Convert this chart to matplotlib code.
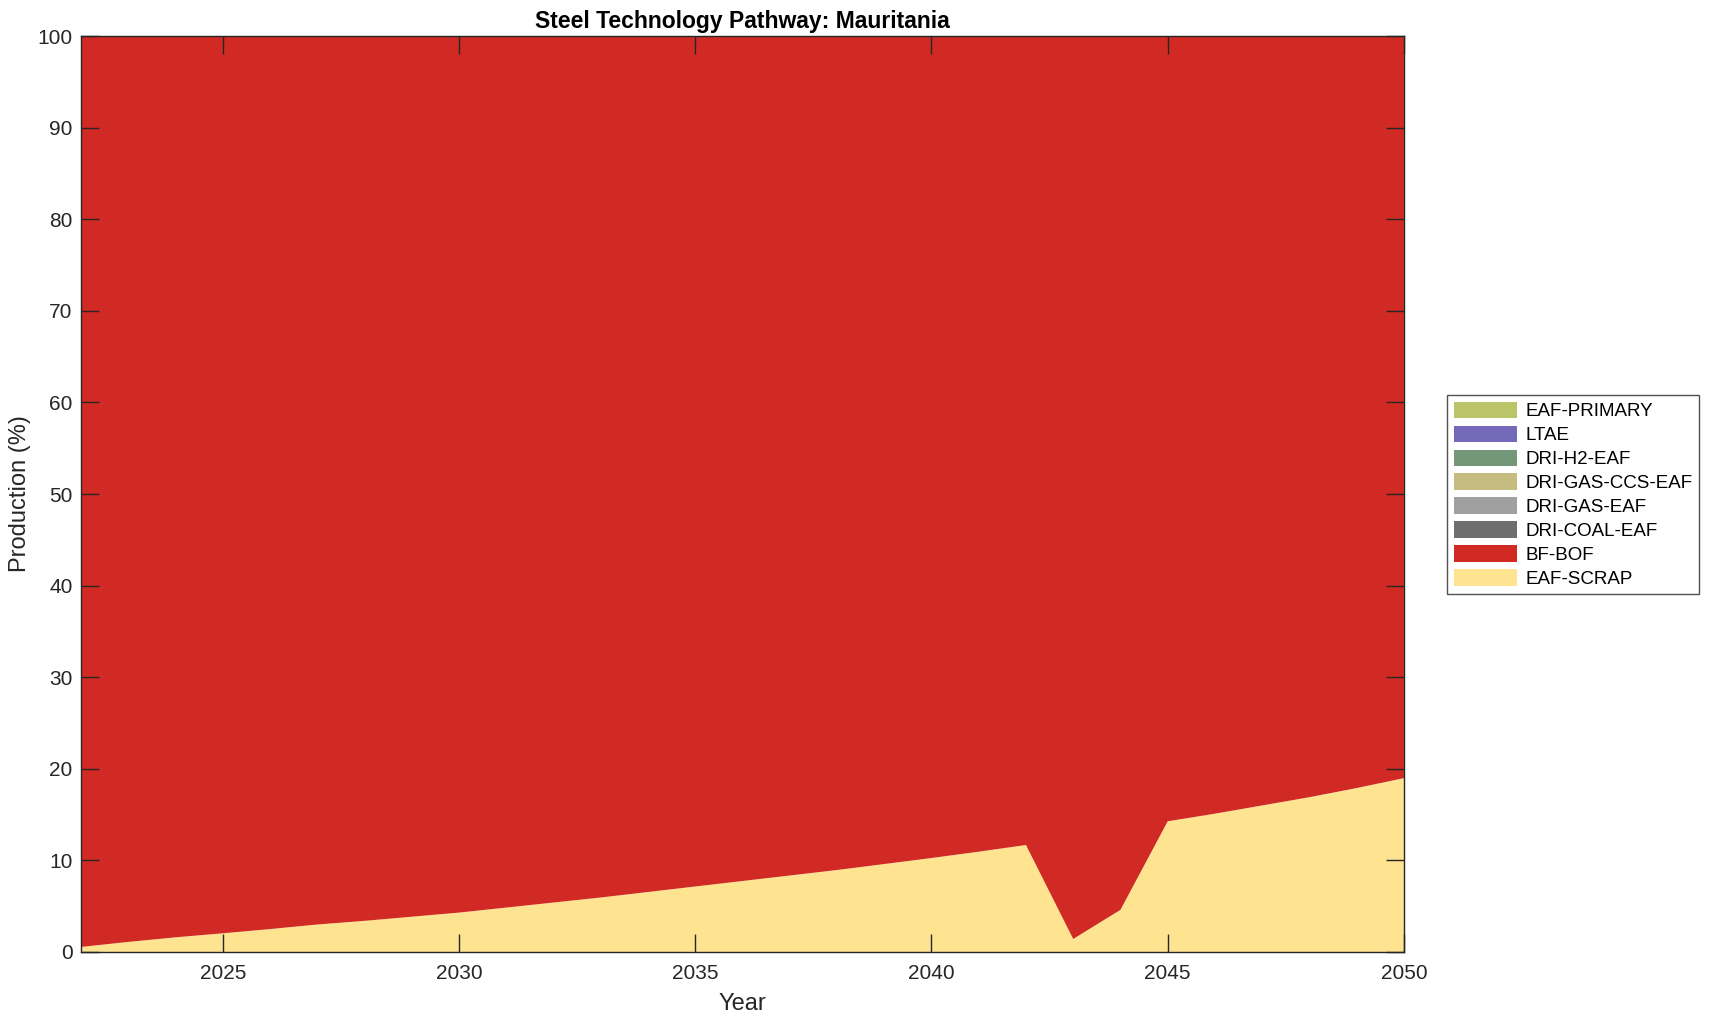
import matplotlib
matplotlib.use("Agg")
import matplotlib.pyplot as plt
import numpy as np

plt.rcParams['font.family'] = ['Liberation Sans', 'DejaVu Sans']

years = list(range(2022, 2051))
eaf_scrap = [0.55, 1.1, 1.6, 2.04, 2.5, 3.0, 3.4, 3.85, 4.3, 4.85, 5.4, 5.95, 6.55, 7.15,
             7.75, 8.35, 8.95, 9.6, 10.26, 10.95, 11.68, 1.42, 4.6, 14.27, 15.1, 16.0,
             16.9, 17.9, 18.98]
bf_bof = [100 - v for v in eaf_scrap]
zeros = [0.0] * len(years)
dri_coal_eaf = zeros
dri_gas_eaf = zeros
dri_gas_ccs_eaf = zeros
dri_h2_eaf = zeros
ltae = zeros
eaf_primary = zeros

labels = ['EAF-SCRAP', 'BF-BOF', 'DRI-COAL-EAF', 'DRI-GAS-EAF', 'DRI-GAS-CCS-EAF',
          'DRI-H2-EAF', 'LTAE', 'EAF-PRIMARY']
colors = ['#FEE391', '#D12A24', '#6E6E6E', '#A0A0A0', '#C6BB80', '#74977A', '#7468B8', '#BCC46A']
series = [eaf_scrap, bf_bof, dri_coal_eaf, dri_gas_eaf, dri_gas_ccs_eaf, dri_h2_eaf, ltae, eaf_primary]

fig = plt.figure(figsize=(17.09, 10.21), dpi=100)
ax = fig.add_axes([0.0474, 0.0676, 0.8215 - 0.0474, 0.9647 - 0.0676])
polys = ax.stackplot(years, *series, colors=colors, labels=labels, linewidth=0)

ax.set_xlim(2022, 2050)
ax.set_ylim(0, 100)
ax.set_xticks(range(2025, 2051, 5))
ax.set_yticks(range(0, 101, 10))
ax.tick_params(direction='in', length=13, width=1, top=True, right=True,
               labelsize=15, colors='#262626')
ax.tick_params(axis='x', pad=9)
ax.tick_params(axis='y', pad=6)
for s in ax.spines.values():
    s.set_linewidth(1.0)
    s.set_color('#262626')
    s.set_zorder(5)

ax.set_xlabel('Year', fontsize=17, color='#262626', labelpad=7)
ax.set_ylabel('Production (%)', fontsize=17, color='#262626', labelpad=5)
ax.set_title('Steel Technology Pathway: Mauritania', fontsize=16.5, fontweight='bold', pad=6)

handles = polys[::-1]
leg_labels = labels[::-1]
leg = fig.legend(handles, leg_labels, loc='upper left', bbox_to_anchor=(0.8467, 0.6131),
                 fontsize=13.5, frameon=True, fancybox=False, edgecolor='#262626',
                 handlelength=3.4, handleheight=0.95, labelspacing=0.29, borderpad=0.35,
                 handletextpad=0.45, borderaxespad=0)
leg.get_frame().set_linewidth(1.0)

fig.savefig('out.png', dpi=100)
